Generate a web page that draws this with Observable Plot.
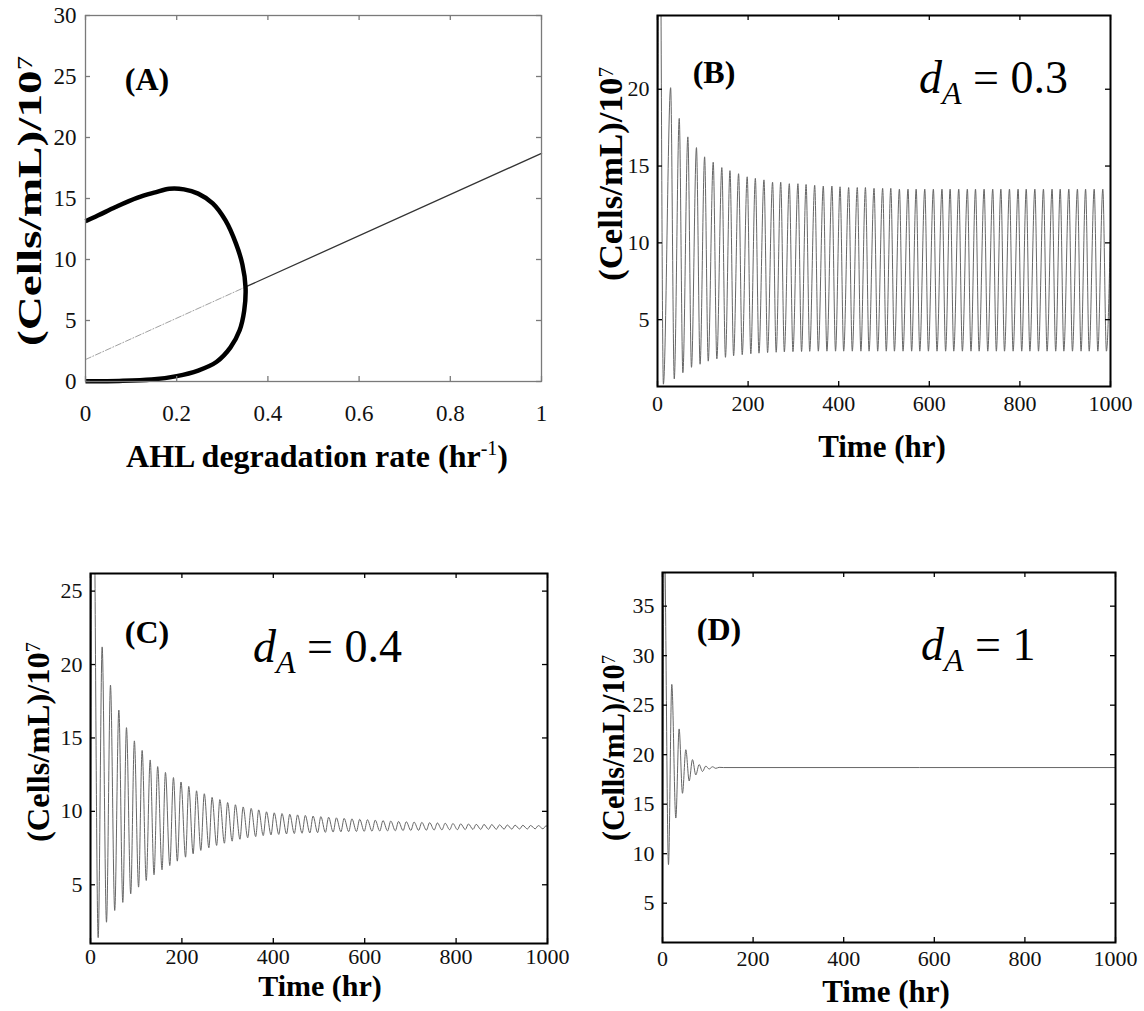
<!DOCTYPE html>
<html><head><meta charset="utf-8">
<script src="https://cdn.jsdelivr.net/npm/d3@7"></script>
<script src="https://cdn.jsdelivr.net/npm/@observablehq/plot@0.6"></script>
<style>
html,body{margin:0;padding:0;background:#fff;}
#page{position:relative;width:1144px;height:1011px;overflow:hidden;background:#fff;}
.panel{position:absolute;}
</style></head><body><div id="page"></div>
<script>
// ---------------- Panel A : bifurcation diagram ----------------
const aTickX = [0, 0.2, 0.4, 0.6, 0.8, 1];
const aTickY = [0, 5, 10, 15, 20, 25, 30];
const loopRate  = [0, 0.027, 0.066, 0.113, 0.153, 0.184, 0.216, 0.247, 0.279, 0.307, 0.330, 0.344, 0.351, 0.348, 0.338, 0.318, 0.287, 0.247, 0.2, 0.145, 0.074, 0];
const loopCells = [13.14, 13.6, 14.3, 15.05, 15.5, 15.8, 15.75, 15.4, 14.6, 13.2, 11.3, 9.6, 7.7, 5.8, 4.2, 2.8, 1.6, 0.9, 0.44, 0.16, 0.05, 0.03];
const unstableRate  = [0, 0.351];
const unstableCells = [1.8, 7.75];
const stableRate  = [0.351, 1];
const stableCells = [7.75, 18.7];

// ---------------- shared time axis ----------------
const timeTicks = [0, 200, 400, 600, 800, 1000];

// ---------------- Panel B : dA = 0.3 ----------------
const bTickY = [5, 10, 15, 20];
const bStartTime = [0, 4];
const bStartValue = [5, 40];
const bPeakTime = [29, 48, 67, 86, 104, 123, 142, 160, 179, 198, 216, 235, 254, 272, 291, 310, 328, 347, 366, 385, 403, 422, 441, 459, 478, 497, 515, 534, 553, 571, 590, 609, 628, 646, 665, 684, 702, 721, 740, 758, 777, 796, 814, 833, 852, 871, 889, 908, 927, 945, 964, 983];
const bPeakValue = [20.1, 18.1, 16.9, 16.2, 15.6, 15.25, 14.9, 14.7, 14.5, 14.3, 14.2, 14.1, 13.95, 13.95, 13.85, 13.85, 13.8, 13.75, 13.7, 13.7, 13.65, 13.6, 13.6, 13.6, 13.55, 13.55, 13.55, 13.5, 13.5, 13.5, 13.5, 13.5, 13.5, 13.5, 13.5, 13.5, 13.5, 13.5, 13.5, 13.5, 13.5, 13.5, 13.5, 13.5, 13.5, 13.5, 13.5, 13.5, 13.5, 13.5, 13.5, 13.5];
const bTroughTime = [13, 37, 56, 75, 94, 112, 131, 150, 168, 187, 206, 224, 243, 262, 280, 299, 318, 336, 355, 374, 393, 411, 430, 449, 467, 486, 505, 523, 542, 561, 579, 598, 617, 636, 654, 673, 692, 710, 729, 748, 766, 785, 804, 822, 841, 860, 879, 897, 916, 935, 953, 972, 991];
const bTroughValue = [0.8, 1.15, 1.55, 1.9, 2.1, 2.3, 2.45, 2.55, 2.65, 2.72, 2.78, 2.82, 2.86, 2.88, 2.9, 2.92, 2.93, 2.94, 2.95, 2.95, 2.95, 2.95, 2.95, 2.95, 2.95, 2.95, 2.95, 2.95, 2.95, 2.95, 2.95, 2.95, 2.95, 2.95, 2.95, 2.95, 2.95, 2.95, 2.95, 2.95, 2.95, 2.95, 2.95, 2.95, 2.95, 2.95, 2.95, 2.95, 2.95, 2.95, 2.95, 2.95, 2.95];
const bEndTime = [1000];
const bEndValue = [11];

// ---------------- Panel C : dA = 0.4 ----------------
const cTickY = [5, 10, 15, 20, 25];
const cStartTime = [0, 5];
const cStartValue = [5, 40];
const cPeakTime = [25.5, 43.7, 62, 78.7, 96, 113, 130.6, 147, 164, 181.5, 198, 215, 232, 249, 266, 283, 300, 317, 334, 351.5, 368, 385, 402, 419, 436, 453, 470, 487, 504, 521, 538, 555, 572, 589, 606, 623, 640, 657, 674, 691, 708, 725, 742, 759, 776, 793, 810, 827, 844, 861, 878, 895, 912, 929, 946, 963, 980, 997];
const cPeakValue = [21.2, 18.6, 16.9, 15.7, 14.8, 14.15, 13.5, 13.05, 12.65, 12.3, 12.0, 11.7, 11.4, 11.2, 10.95, 10.8, 10.6, 10.45, 10.3, 10.2, 10.1, 9.97, 9.9, 9.85, 9.8, 9.76, 9.72, 9.68, 9.64, 9.6, 9.56, 9.52, 9.49, 9.46, 9.43, 9.4, 9.37, 9.34, 9.31, 9.29, 9.27, 9.25, 9.23, 9.21, 9.19, 9.17, 9.15, 9.14, 9.12, 9.11, 9.1, 9.08, 9.07, 9.06, 9.05, 9.04, 9.03, 9.02];
const cTroughTime = [16.8, 35, 53, 70.7, 88, 105.2, 122, 139, 156.5, 173.5, 190, 208, 224.6, 241.4, 259, 276, 293, 310, 327, 344, 361.5, 378, 395, 412, 429, 446, 463, 480, 497, 514, 531, 548, 565, 582, 599, 616, 633, 650, 667, 684, 701, 718, 735, 752, 769, 786, 803, 820, 837, 854, 871, 888, 905, 922, 939, 956, 973, 990];
const cTroughValue = [1.4, 2.45, 3.25, 3.8, 4.38, 4.84, 5.29, 5.68, 6.02, 6.31, 6.61, 6.88, 7.11, 7.34, 7.52, 7.68, 7.83, 7.97, 8.1, 8.2, 8.28, 8.35, 8.4, 8.43, 8.46, 8.49, 8.51, 8.53, 8.55, 8.57, 8.59, 8.61, 8.62, 8.63, 8.64, 8.65, 8.66, 8.67, 8.68, 8.69, 8.7, 8.71, 8.72, 8.73, 8.74, 8.75, 8.75, 8.76, 8.77, 8.77, 8.78, 8.78, 8.79, 8.79, 8.8, 8.8, 8.81, 8.81];
const cEndTime = [1000];
const cEndValue = [8.95];

// ---------------- Panel D : dA = 1 ----------------
const dTickY = [5, 10, 15, 20, 25, 30, 35];
const dTime  = [0, 4, 13.2, 20.5, 29.4, 36.7, 44.1, 51.5, 58.9, 66.2, 73.5, 80.9, 88.3, 95.6, 103, 110.4, 117.7, 125, 135, 1000];
const dValue = [6, 42, 8.9, 27.1, 13.6, 22.6, 16.1, 20.5, 17.35, 19.5, 17.95, 19.0, 18.3, 18.85, 18.55, 18.78, 18.62, 18.72, 18.7, 18.7];

// ---------------- helpers ----------------
const FONT = '"Liberation Serif","Times New Roman",Times,serif';
const page = document.getElementById("page");

function pairs(ts, vs) { return ts.map((t, i) => ({t, v: vs[i]})); }
function seriesOf(...groups) {
  const out = [];
  for (const [ts, vs] of groups) out.push(...pairs(ts, vs));
  return out.sort((a, b) => a.t - b.t);
}

function makePanel(cfg) {
  const {left, top, width, height, m, xDomain, yDomain, xTicks, yTicks, frameColor, frameWidth,
         tickColor, tickLen, xPad, yPad, marks, tickFont} = cfg;
  const fw = width - m.left - m.right, fh = height - m.top - m.bottom;
  const fs = tickFont || 22;
  const svg = Plot.plot({
    width, height,
    marginLeft: m.left, marginRight: m.right, marginTop: m.top, marginBottom: m.bottom,
    x: {domain: xDomain, label: null},
    y: {domain: yDomain, label: null},
    style: {fontFamily: FONT, fontSize: fs + "px", color: "black", background: "transparent", overflow: "visible"},
    marks: [
      ...marks,
      Plot.tickX(xTicks, {x: d => d, insetTop: fh - tickLen, stroke: tickColor, strokeWidth: 1.3}),
      Plot.tickX(xTicks, {x: d => d, insetBottom: fh - tickLen, stroke: tickColor, strokeWidth: 1.3}),
      Plot.tickY(yTicks, {y: d => d, insetRight: fw - tickLen, stroke: tickColor, strokeWidth: 1.3}),
      Plot.tickY(yTicks, {y: d => d, insetLeft: fw - tickLen, stroke: tickColor, strokeWidth: 1.3}),
      Plot.frame({stroke: frameColor, strokeWidth: frameWidth}),
      Plot.axisX(xTicks, {anchor: "bottom", label: null, tickSize: 0, tickPadding: xPad, tickFormat: d => String(d), fontSize: fs, fontFamily: FONT, fill: "#111"}),
      Plot.axisY(yTicks, {anchor: "left", label: null, tickSize: 0, tickPadding: yPad, tickFormat: d => String(d), fontSize: fs, fontFamily: FONT, fill: "#111"})
    ]
  });
  const div = document.createElement("div");
  div.className = "panel";
  div.style.left = left + "px";
  div.style.top = top + "px";
  div.appendChild(svg);
  page.appendChild(div);
  return d3.select(svg);
}

function txt(g, x, y, size, weight, anchor) {
  return g.append("text").attr("x", x).attr("y", y)
    .attr("text-anchor", anchor || "start")
    .style("font-family", FONT).style("font-size", size + "px")
    .style("font-weight", weight).style("fill", "#000").style("white-space", "pre");
}
function panelLetter(g, x, y, s) { txt(g, x, y, 32, "bold", "middle").text(s); }
function xTitle(g, x, y, size) { txt(g, x, y, size || 31, "bold", "middle").text("Time (hr)"); }
function yTitle(g, cx, cy, size, len) {
  const t = g.append("text")
    .attr("transform", `translate(${cx},${cy}) rotate(-90)`)
    .attr("text-anchor", "middle").attr("dy", "0.35em")
    .style("font-family", FONT).style("font-size", size + "px").style("font-weight", "bold").style("fill", "#000");
  if (len) t.attr("textLength", len).attr("lengthAdjust", "spacingAndGlyphs");
  t.append("tspan").text("(Cells/mL)/10");
  t.append("tspan").attr("dy", "-0.45em").style("font-size", Math.round(size * 0.62) + "px").style("font-weight", "normal").text("7");
}
function dA(g, x, y, val) {
  const t = txt(g, x, y, 46, "normal", "start");
  t.append("tspan").style("font-style", "italic").text("d");
  t.append("tspan").attr("dy", 11).style("font-style", "italic").style("font-size", "32px").text("A");
  t.append("tspan").attr("dy", -11).text(" = " + val);
}

// ---------------- Panel A ----------------
const loopData = pairs(loopRate, loopCells);
const unstableData = pairs(unstableRate, unstableCells);
const stableData = pairs(stableRate, stableCells);
const gA = makePanel({
  left: 0, top: 0, width: 560, height: 480,
  m: {left: 85, right: 19, top: 15, bottom: 99},
  xDomain: [0, 1], yDomain: [0, 30], xTicks: aTickX, yTicks: aTickY, tickFont: 23,
  frameColor: "#7a7a7a", frameWidth: 1.3, tickColor: "#7a7a7a", tickLen: 5, xPad: 23, yPad: 9,
  marks: [
    Plot.line(unstableData, {x: "t", y: "v", stroke: "#a0a0a0", strokeWidth: 1, strokeDasharray: "6,2,1,2"}),
    Plot.line(stableData, {x: "t", y: "v", stroke: "#333", strokeWidth: 1.3}),
    Plot.line(loopData, {x: "t", y: "v", stroke: "#000", strokeWidth: 4.5, curve: "catmull-rom", strokeLinecap: "butt"})
  ]
});
panelLetter(gA, 147, 90, "(A)");
{
  const t = txt(gA, 317, 467, 32, "bold", "middle");
  t.append("tspan").text("AHL degradation rate (hr");
  t.append("tspan").attr("dy", -12).style("font-size", "20px").style("font-weight", "normal").text("-1");
  t.append("tspan").attr("dy", 12).text(")");
}
yTitle(gA, 29, 201, 33, 290);

// ---------------- Panel B ----------------
const bData = seriesOf([bStartTime, bStartValue], [bPeakTime, bPeakValue], [bTroughTime, bTroughValue], [bEndTime, bEndValue]);
const gB = makePanel({
  left: 572, top: 0, width: 572, height: 480,
  m: {left: 85, right: 34, top: 15, bottom: 94},
  xDomain: [0, 1000], yDomain: [0.65, 24.8], xTicks: timeTicks, yTicks: bTickY,
  frameColor: "#000", frameWidth: 2, tickColor: "#000", tickLen: 5, xPad: 9, yPad: 8,
  marks: [Plot.line(bData, {x: "t", y: "v", stroke: "#666", strokeWidth: 1, curve: "monotone-x", clip: true})]
});
panelLetter(gB, 142, 83, "(B)");
dA(gB, 347, 93, "0.3");
xTitle(gB, 310, 457);
yTitle(gB, 38, 174, 33, 214);

// ---------------- Panel C ----------------
const cData = seriesOf([cStartTime, cStartValue], [cPeakTime, cPeakValue], [cTroughTime, cTroughValue], [cEndTime, cEndValue]);
const gC = makePanel({
  left: 0, top: 556, width: 572, height: 455,
  m: {left: 90, right: 25, top: 17, bottom: 68},
  xDomain: [0, 1000], yDomain: [1.0, 26.2], xTicks: timeTicks, yTicks: cTickY,
  frameColor: "#000", frameWidth: 2, tickColor: "#000", tickLen: 5, xPad: 5, yPad: 8,
  marks: [Plot.line(cData, {x: "t", y: "v", stroke: "#666", strokeWidth: 1, curve: "monotone-x", clip: true})]
});
panelLetter(gC, 147, 87, "(C)");
dA(gC, 253, 106, "0.4");
xTitle(gC, 320, 440, 30);
yTitle(gC, 38, 186, 32, 200);

// ---------------- Panel D ----------------
const dData = pairs(dTime, dValue);
const gD = makePanel({
  left: 572, top: 556, width: 572, height: 455,
  m: {left: 90, right: 29, top: 16, bottom: 69},
  xDomain: [0, 1000], yDomain: [1.03, 38.4], xTicks: timeTicks, yTicks: dTickY,
  frameColor: "#000", frameWidth: 2, tickColor: "#000", tickLen: 5, xPad: 8, yPad: 8,
  marks: [Plot.line(dData, {x: "t", y: "v", stroke: "#666", strokeWidth: 1, curve: "monotone-x", clip: true})]
});
panelLetter(gD, 147, 84, "(D)");
dA(gD, 349, 104, "1");
xTitle(gD, 314, 446);
yTitle(gD, 41, 192, 31, 186);
</script>
</body></html>
